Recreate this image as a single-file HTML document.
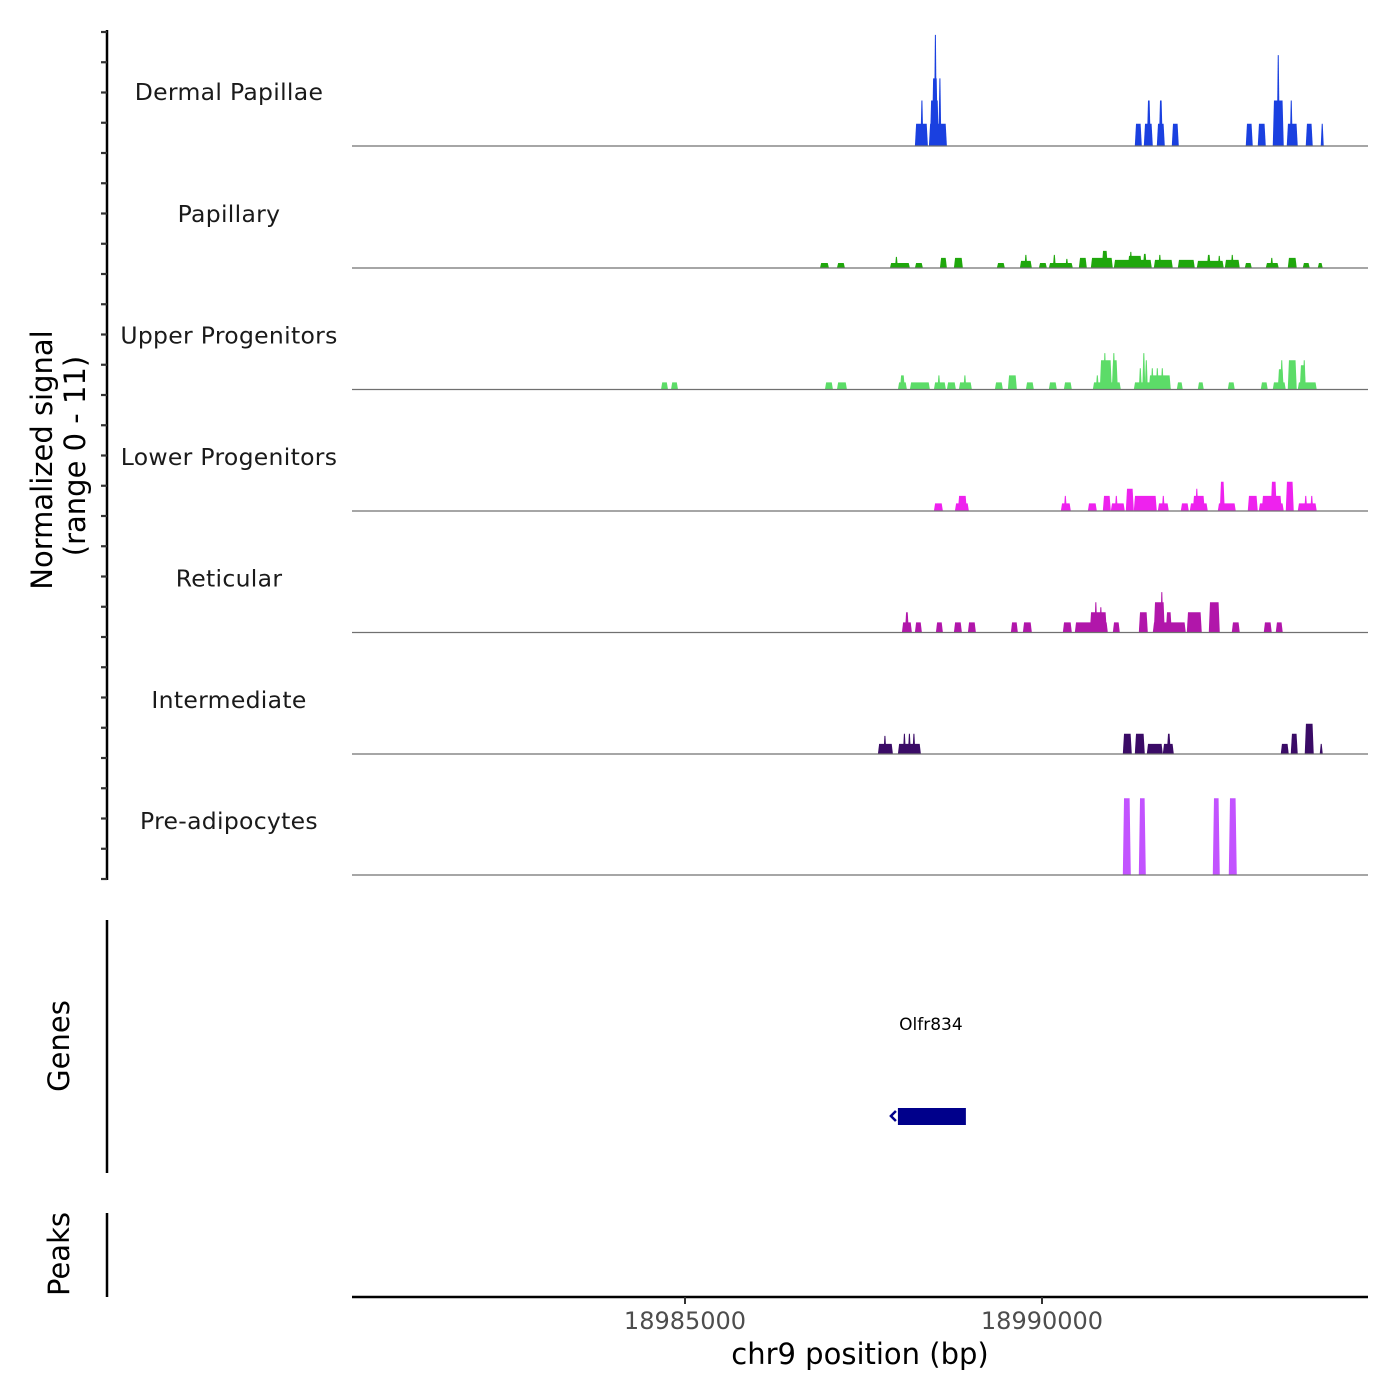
<!DOCTYPE html>
<html><head><meta charset="utf-8"><style>
html,body{margin:0;padding:0;background:#fff}
svg{display:block;font-family:"DejaVu Sans","Liberation Sans",sans-serif}
</style></head><body>
<svg id="chart" width="1400" height="1400" viewBox="0 0 1400 1400">
<g id="tracks"></g>
<g id="axes">
<line x1="107" y1="30" x2="107" y2="880" stroke="#000" stroke-width="2.5"/>
<g id="yticks"></g>
<text transform="translate(52,460) rotate(-90)" text-anchor="middle" font-size="29" fill="#000">Normalized signal</text>
<text transform="translate(85,456) rotate(-90)" text-anchor="middle" font-size="29" fill="#000">(range 0 - 11)</text>
<line x1="107" y1="920" x2="107" y2="1173" stroke="#000" stroke-width="2.5"/>
<text transform="translate(69,1046) rotate(-90)" text-anchor="middle" font-size="29" fill="#000">Genes</text>
<line x1="107" y1="1213" x2="107" y2="1297" stroke="#000" stroke-width="2.5"/>
<text transform="translate(69,1254) rotate(-90)" text-anchor="middle" font-size="29" fill="#000">Peaks</text>
<line x1="352" y1="1297" x2="1368" y2="1297" stroke="#000" stroke-width="2.5"/>
<g id="xticks"></g>
<text x="860" y="1364" text-anchor="middle" font-size="29" fill="#000">chr9 position (bp)</text>
</g>
<g id="genes"></g>
</svg>
<script>
const trackNames=["Dermal Papillae","Papillary","Upper Progenitors","Lower Progenitors","Reticular","Intermediate","Pre-adipocytes"];
const trackColors=["#1a40e0","#1fa70c","#5cdc68","#ee22ee","#b116aa","#3a0b66","#c253ff"];
const xTicks=[18985000,18990000];
const geneName="Olfr834";
const geneStart=18987982, geneEnd=18988934;
// segments: [startBp, endBp, value]
const dermal=[[18988220,18988402,2.2],[18988304,18988332,4.5],[18988416,18988668,2.2],[18988430,18988556,4.5],[18988458,18988542,6.7],[18988500,18988514,11],[18988556,18988584,6.7],[18991300,18991398,2.2],[18991426,18991552,2.2],[18991468,18991524,4.5],[18991608,18991720,2.2],[18991636,18991692,4.5],[18991818,18991916,2.2],[18992854,18992952,2.2],[18993022,18993134,2.2],[18993232,18993386,4.5],[18993288,18993330,9],[18993428,18993582,2.2],[18993484,18993498,4.5],[18993694,18993792,2.2],[18993918,18993932,2.2]];
const papillary=[[18986890,18987016,0.5],[18987128,18987240,0.5],[18987870,18988150,0.5],[18987954,18987968,1.1],[18988220,18988332,0.5],[18988570,18988668,1.0],[18988766,18988892,1.0],[18989368,18989480,0.5],[18989690,18989858,0.7],[18989760,18989788,1.3],[18989956,18990068,0.5],[18990096,18990432,0.5],[18990152,18990194,1.3],[18990334,18990362,0.9],[18990516,18990628,1.0],[18990684,18990992,1.0],[18990838,18990922,1.7],[18991006,18991538,0.8],[18991202,18991398,1.2],[18991230,18991258,1.6],[18991412,18991468,1.4],[18991566,18991832,0.8],[18991636,18991664,1.3],[18991902,18992140,0.8],[18992168,18992546,0.7],[18992308,18992364,1.3],[18992462,18992504,1.2],[18992560,18992770,0.8],[18992644,18992686,1.3],[18992840,18992938,0.5],[18993134,18993316,0.5],[18993204,18993232,1.0],[18993442,18993568,1.0],[18993652,18993750,0.5],[18993862,18993932,0.5]];
const upperProg=[[18984664,18984762,0.7],[18984804,18984902,0.7],[18986960,18987072,0.7],[18987128,18987268,0.7],[18987982,18988108,0.7],[18988010,18988080,1.4],[18988150,18988430,0.7],[18988486,18988654,0.7],[18988542,18988570,1.4],[18988668,18988794,0.7],[18988836,18989018,0.7],[18988906,18988934,1.4],[18989340,18989452,0.7],[18989522,18989648,1.4],[18989774,18989886,0.7],[18990096,18990208,0.7],[18990306,18990418,0.7],[18990712,18991104,0.7],[18990754,18990796,1.4],[18990810,18990978,2.9],[18990866,18990894,3.6],[18990978,18991062,2.9],[18990992,18991020,3.6],[18991286,18991804,0.7],[18991356,18991398,2.1],[18991412,18991440,3.6],[18991440,18991482,2.9],[18991496,18991804,1.4],[18991538,18991552,2.1],[18991608,18991622,2.1],[18991678,18991692,2.1],[18991888,18991972,0.7],[18992182,18992266,0.7],[18992602,18992700,0.7],[18993064,18993162,0.7],[18993232,18993414,0.7],[18993302,18993386,2.0],[18993344,18993372,2.9],[18993442,18993568,2.9],[18993582,18993848,0.7],[18993610,18993694,2.4],[18993666,18993680,2.9]];
const lowerProg=[[18988486,18988612,0.75],[18988780,18988976,0.75],[18988822,18988948,1.5],[18990264,18990404,0.75],[18990306,18990348,1.5],[18990642,18990768,0.75],[18990852,18990964,1.5],[18990964,18991160,0.75],[18991034,18991048,1.5],[18991174,18991286,2.2],[18991286,18991608,1.5],[18991622,18991776,0.75],[18991678,18991720,1.5],[18991944,18992056,0.75],[18992070,18992322,0.75],[18992112,18992280,1.5],[18992154,18992182,2.2],[18992462,18992714,0.75],[18992490,18992560,2.9],[18992882,18993022,1.5],[18993036,18993386,0.75],[18993078,18993358,1.5],[18993204,18993288,2.9],[18993414,18993526,2.9],[18993582,18993848,0.75],[18993680,18993708,1.5],[18993764,18993792,1.5]];
const reticular=[[18988038,18988178,1],[18988080,18988136,2],[18988220,18988318,1],[18988514,18988612,1],[18988766,18988878,1],[18988962,18989074,1],[18989564,18989662,1],[18989732,18989858,1],[18990292,18990418,1],[18990460,18990922,1],[18990670,18990908,2],[18990740,18990768,3],[18990810,18990838,2.5],[18990992,18991090,1],[18991356,18991482,2],[18991552,18992014,1],[18991566,18991720,3],[18991664,18991692,4],[18991734,18991818,2],[18992028,18992238,2],[18992336,18992490,3],[18992658,18992770,1],[18993106,18993218,1],[18993274,18993372,1]];
const intermediate=[[18987702,18987912,1],[18987786,18987814,1.8],[18987982,18988304,1],[18988052,18988094,2],[18988122,18988164,2],[18988192,18988220,2],[18991132,18991258,2],[18991300,18991440,2],[18991468,18991692,1],[18991692,18991846,1],[18991748,18991804,2],[18993344,18993456,1],[18993484,18993582,2],[18993680,18993806,3],[18993904,18993918,1]];
const preadipo=[[18991132,18991244,7.6],[18991356,18991454,7.6],[18992392,18992490,7.6],[18992616,18992728,7.6]];
const trackData=[dermal,papillary,upperProg,lowerProg,reticular,intermediate,preadipo];

const NS="http://www.w3.org/2000/svg";
const X0=352,X1=1368,BP0=18980336,BP1=18994566;
function xScale(bp){return X0+(bp-BP0)/(BP1-BP0)*(X1-X0);}
const baselines=[146,268,389.5,511,632.5,754,875];
const unitPx=10.1;
function yScale(v,i){return baselines[i]-v*unitPx;}
function mk(tag,attrs,parent){const e=document.createElementNS(NS,tag);for(const k in attrs)e.setAttribute(k,attrs[k]);parent.appendChild(e);return e;}

const tracksG=document.getElementById('tracks');
trackData.forEach((segs,i)=>{
  const g=mk('g',{},tracksG);
  
  
  const lbl=mk('text',{x:229,y:baselines[i]-46,'text-anchor':'middle','font-size':'23.5',fill:'#1a1a1a','letter-spacing':'0.3'},g);
  lbl.textContent=trackNames[i];
  
  
  segs.forEach(s=>{
    let a=xScale(s[0]),b=xScale(s[1]);
    if(b-a<3){const c=(a+b)/2;a=c-1.5;b=c+1.5;}
    const t=yScale(s[2],i),base=baselines[i];
    const sl=Math.min(1.2,(b-a)/3);
    const p=mk('polygon',{points:`${a},${base} ${a+sl},${t} ${b-sl},${t} ${b},${base}`,fill:trackColors[i]},g);
    
    
  });
  const bl=mk('line',{x1:X0,x2:X1,y1:baselines[i],y2:baselines[i],stroke:'#707070','stroke-width':'1.2'},g);
  
  
});

const yt=document.getElementById('yticks');
for(let k=0;k<29;k++){
  const y=32+k*30.25;
  const l=mk('line',{x1:101,x2:107,y1:y,y2:y,stroke:'#333','stroke-width':'2.2'},yt);
  
  
}

const xt=document.getElementById('xticks');
xTicks.forEach(v=>{
  const x=xScale(v);
  const l=mk('line',{x1:x,x2:x,y1:1297,y2:1304,stroke:'#333','stroke-width':'2'},xt);
  
  
  const t=mk('text',{x:x,y:1329,'text-anchor':'middle','font-size':'24',fill:'#4d4d4d'},xt);
  t.textContent=String(v);
  
  
});

const gg=document.getElementById('genes');
const gx0=xScale(geneStart),gx1=xScale(geneEnd);
const gl=mk('text',{x:(gx0+gx1)/2-1,y:1030,'text-anchor':'middle','font-size':'17',fill:'#000'},gg);
gl.textContent=geneName;


const gr=mk('rect',{x:gx0,y:1108,width:gx1-gx0,height:17,fill:'#00008b'},gg);


const ga=mk('path',{d:`M${gx0-2},1111 L${gx0-7},1116 L${gx0-2},1121`,stroke:'#00008b','stroke-width':'2.5',fill:'none'},gg);


</script>
</body></html>
